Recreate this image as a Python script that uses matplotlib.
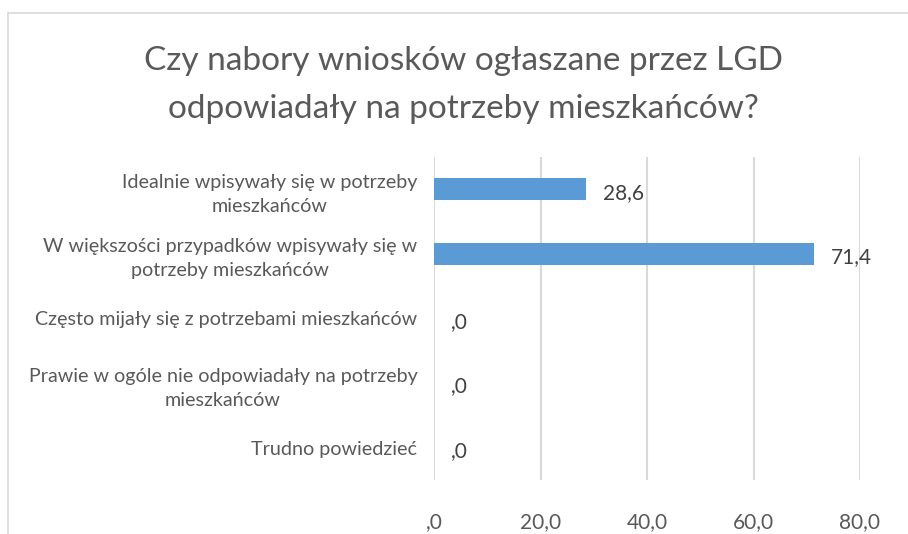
import matplotlib
matplotlib.use("Agg")
import matplotlib.pyplot as plt
from matplotlib.lines import Line2D

plt.rcParams['font.family'] = ['Lato', 'DejaVu Sans']

# dane
kategorie = [
    "Idealnie wpisywały się w potrzeby\nmieszkańców",
    "W większości przypadków wpisywały się w\npotrzeby mieszkańców",
    "Często mijały się z potrzebami mieszkańców",
    "Prawie w ogóle nie odpowiadały na potrzeby\nmieszkańców",
    "Trudno powiedzieć",
]
wartosci = [28.6, 71.4, 0.0, 0.0, 0.0]
ticki = [0, 20, 40, 60, 80]
tytul = "Czy nabory wniosków ogłaszane przez LGD\nodpowiadały na potrzeby mieszkańców?"

TXT = '#595959'
GRID = '#D9D9D9'
BAR = '#5B9BD5'


def fmt(v):
    s = f"{v:.1f}".replace('.', ',')
    if s.startswith('0'):
        s = s[1:]
    return s


W, H = 908, 534
fig = plt.figure(figsize=(W / 100, H / 100), dpi=100)
ax = fig.add_axes([434 / W, 1 - 480 / H, (860 - 434) / W, (480 - 157) / H])

pos = list(range(len(kategorie)))
ax.barh(pos, wartosci, height=0.34, color=BAR, zorder=3)
ax.set_ylim(len(kategorie) - 0.5, -0.5)
ax.set_xlim(0, 80)

ax.set_xticks(ticki)
ax.set_xticklabels([fmt(t) for t in ticki], fontsize=15, color=TXT)
ax.set_yticks(pos)
ax.set_yticklabels(kategorie, fontsize=14.2, color=TXT, multialignment='center',
                   linespacing=1.5)
ax.tick_params(axis='x', length=0, pad=23)
ax.tick_params(axis='y', length=0, pad=12)
ax.grid(axis='x', color=GRID, linewidth=1.5, zorder=0)
for s in ax.spines.values():
    s.set_visible(False)

for p, v in zip(pos, wartosci):
    ax.annotate(fmt(v), (v, p), xytext=(12, -2.5), textcoords='offset points',
                va='center', ha='left', fontsize=15, color='#404040')

fig.text(463 / W, 1 - 85 / H, tytul, ha='center', va='center', fontsize=24,
         color=TXT, linespacing=1.75)

# ramka wykresu
fig.add_artist(Line2D([8 / W, 8 / W], [0, 1 - 13 / H], color=GRID, lw=1.2))
fig.add_artist(Line2D([8 / W, 1], [1 - 13 / H, 1 - 13 / H], color=GRID, lw=1.2))

fig.savefig("out.png", dpi=100)
